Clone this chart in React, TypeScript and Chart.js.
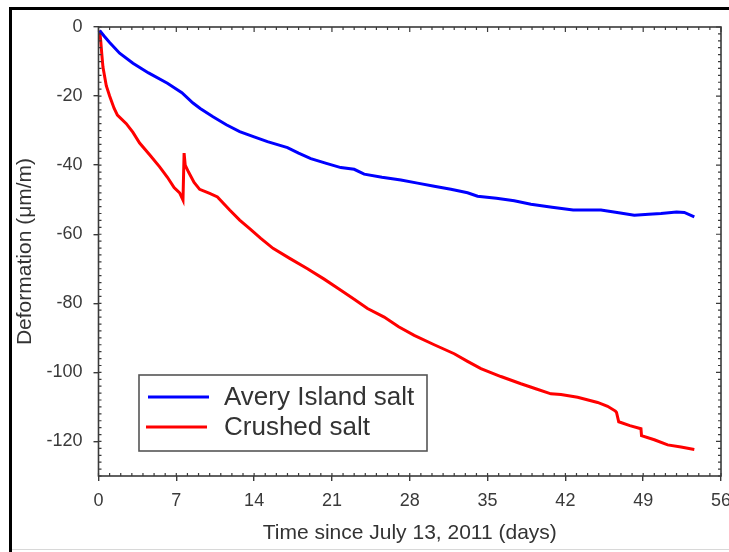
import React, { useEffect, useRef } from "react";
import { Chart, registerables } from "chart.js";

Chart.register(...registerables);

const seriesLabels = ["Avery Island salt", "Crushed salt"];
const seriesColors = ["#0000ff", "#ff0000"];

const averyDays = [0.1, 0.5, 1.0, 1.9, 3.1, 4.5, 6.2, 7.5, 8.5, 9.15, 10.3, 11.5, 12.7, 14.0, 15.2, 17.0, 18.0, 19.1, 20.5, 21.8, 23.0, 23.9, 25.5, 27.2, 28.7, 30.2, 31.7, 33.2, 34.1, 35.8, 37.4, 38.9, 40.8, 42.7, 45.2, 46.8, 48.2, 49.5, 50.6, 52.0, 52.7, 53.6];
const averyValues = [-1, -2.6, -4.5, -7.6, -10.5, -13.3, -16.3, -19, -22, -23.6, -26, -28.3, -30.3, -31.8, -33.2, -34.9, -36.5, -38.1, -39.5, -40.7, -41.2, -42.6, -43.5, -44.3, -45.2, -46.1, -47.0, -48.0, -49.0, -49.6, -50.3, -51.3, -52.2, -53.0, -53.0, -53.8, -54.5, -54.2, -54.0, -53.6, -53.7, -55.0];

const crushedDays = [0.1, 0.2, 0.3, 0.4, 0.7, 1.0, 1.4, 1.7, 2.5, 3.1, 3.7, 4.6, 5.5, 6.2, 6.8, 7.3, 7.6, 7.7, 7.8, 8.1, 8.6, 9.1, 10.0, 10.7, 11.8, 12.7, 13.6, 14.6, 15.7, 17.2, 18.8, 20.3, 21.8, 23.0, 24.2, 25.7, 27.0, 28.4, 30.2, 32.0, 33.2, 34.4, 36.2, 38.0, 39.4, 40.7, 41.6, 43.1, 44.9, 45.8, 46.5, 46.6, 46.8, 47.8, 48.8, 48.85, 50.0, 51.2, 52.4, 53.6];
const crushedValues = [-1, -4, -8, -11.6, -17, -20, -23.5, -25.5, -28, -30.5, -33.6, -37, -40.5, -43.5, -46.5, -48, -50.1, -36.5, -40, -42, -45, -47, -48.2, -49.2, -53, -55.9, -58.4, -61.2, -64.1, -67, -70, -73, -76.2, -78.8, -81.5, -84, -86.8, -89.3, -92, -94.6, -96.8, -98.9, -101.2, -103.3, -104.8, -106.2, -106.4, -107.2, -108.7, -109.8, -111.2, -111.6, -114.3, -115.4, -116.3, -118.3, -119.5, -121, -121.6, -122.3];

const xTickValues = [0, 7, 14, 21, 28, 35, 42, 49, 56];
const yTickValues = [0, -20, -40, -60, -80, -100, -120];
const xMinorStep = 1;
const yMinorStep = 2;
const xRange = [0, 56];
const yRange = [-130, 0];

const xTitle = "Time since July 13, 2011 (days)";
const yTitle = "Deformation (\u03bcm/m)";

const FONT = "'Liberation Sans', Arial, Helvetica, sans-serif";
const AXIS_COLOR = "#3a3a3a";

const decorPlugin = {
  id: "decor",
  beforeDraw(chart: any) {
    const ctx = chart.ctx;
    ctx.save();
    ctx.fillStyle = "#ffffff";
    ctx.fillRect(0, 0, chart.width, chart.height);
    ctx.fillStyle = "#000000";
    ctx.fillRect(10, 7, chart.width - 10, 3);
    ctx.fillRect(9, 7, 3, chart.height - 7);
    ctx.fillStyle = "#d8d8d8";
    ctx.fillRect(12, chart.height - 3, chart.width - 12, 1);
    ctx.restore();
  },
  afterDraw(chart: any) {
    const ctx = chart.ctx;
    const { left, right, top, bottom } = chart.chartArea;
    const xs = chart.scales.x;
    const ys = chart.scales.y;
    ctx.save();
    ctx.strokeStyle = AXIS_COLOR;
    ctx.lineWidth = 1.6;
    ctx.strokeRect(left, top, right - left, bottom - top);
    ctx.lineWidth = 1.2;
    ctx.beginPath();
    for (let v = xs.min; v <= xs.max + 1e-6; v += xMinorStep) {
      const px = xs.getPixelForValue(v);
      const major = xTickValues.includes(Math.round(v * 1000) / 1000);
      ctx.moveTo(px, bottom);
      ctx.lineTo(px, bottom - 3);
      ctx.moveTo(px, top);
      ctx.lineTo(px, top + (major ? 5 : 3));
    }
    for (let v = ys.min; v <= ys.max + 1e-6; v += yMinorStep) {
      const py = ys.getPixelForValue(v);
      const major = yTickValues.includes(Math.round(v * 1000) / 1000);
      ctx.moveTo(left, py);
      ctx.lineTo(left + 3, py);
      ctx.moveTo(right, py);
      ctx.lineTo(right - (major ? 5 : 3), py);
    }
    ctx.stroke();

    // legend box
    const bx = 139, by = 375, bw = 288, bh = 76;
    ctx.fillStyle = "#ffffff";
    ctx.fillRect(bx, by, bw, bh);
    ctx.strokeStyle = "#555555";
    ctx.lineWidth = 1.6;
    ctx.strokeRect(bx, by, bw, bh);
    const rows = [397, 427];
    const lineStarts = [148, 146];
    chart.data.datasets.forEach((ds: any, i: number) => {
      const y = rows[i];
      ctx.strokeStyle = ds.borderColor;
      ctx.lineWidth = 3;
      ctx.beginPath();
      ctx.moveTo(lineStarts[i], y);
      ctx.lineTo(lineStarts[i] + 61, y);
      ctx.stroke();
      ctx.fillStyle = "#333333";
      ctx.font = `26px ${FONT}`;
      ctx.textAlign = "left";
      ctx.textBaseline = "middle";
      ctx.fillText(ds.label, 224, y + 1);
    });
    ctx.restore();
  },
};

export default function App() {
  const ref = useRef<HTMLCanvasElement | null>(null);
  useEffect(() => {
    document.body.style.margin = "0";
    const canvas = ref.current!;
    const toPoints = (xs: number[], ys: number[]) => xs.map((x, i) => ({ x, y: ys[i] }));
    const chart = new Chart(canvas, {
      type: "line",
      data: {
        datasets: [
          {
            label: seriesLabels[0],
            data: toPoints(averyDays, averyValues),
            borderColor: seriesColors[0],
            backgroundColor: seriesColors[0],
            borderWidth: 3,
            pointRadius: 0,
            tension: 0,
          },
          {
            label: seriesLabels[1],
            data: toPoints(crushedDays, crushedValues),
            borderColor: seriesColors[1],
            backgroundColor: seriesColors[1],
            borderWidth: 3,
            pointRadius: 0,
            tension: 0,
          },
        ],
      },
      options: {
        animation: false,
        responsive: false,
        devicePixelRatio: 1,
        layout: { padding: { left: 0, top: 27, right: 8, bottom: 0 } },
        plugins: { legend: { display: false }, tooltip: { enabled: false } },
        scales: {
          x: {
            type: "linear",
            min: xRange[0],
            max: xRange[1],
            afterBuildTicks: (scale: any) => {
              scale.ticks = xTickValues.map((v) => ({ value: v }));
            },
            afterFit: (scale: any) => {
              scale.height = 76;
              scale.paddingLeft = 0;
              scale.paddingRight = 0;
            },
            ticks: {
              color: "#3a3a3a",
              font: { size: 18, family: FONT },
              padding: 9,
              maxRotation: 0,
              autoSkip: false,
            },
            grid: {
              drawOnChartArea: false,
              drawTicks: true,
              tickLength: 5,
              color: AXIS_COLOR,
              lineWidth: 1.4,
            },
            border: { display: false },
            title: {
              display: true,
              text: xTitle,
              color: "#333333",
              font: { size: 21, family: FONT },
              padding: { top: 4, bottom: 6 },
            },
          },
          y: {
            type: "linear",
            min: yRange[0],
            max: yRange[1],
            afterBuildTicks: (scale: any) => {
              scale.ticks = yTickValues.map((v) => ({ value: v }));
            },
            afterFit: (scale: any) => {
              scale.width = 98.5;
              scale.paddingTop = 0;
              scale.paddingBottom = 0;
            },
            ticks: {
              color: "#3a3a3a",
              font: { size: 18, family: FONT },
              padding: 11,
              autoSkip: false,
            },
            grid: {
              drawOnChartArea: false,
              drawTicks: true,
              tickLength: 5,
              color: AXIS_COLOR,
              lineWidth: 1.4,
            },
            border: { display: false },
            title: {
              display: true,
              text: yTitle,
              color: "#333333",
              font: { size: 21, family: FONT },
              padding: { top: 13, bottom: 0 },
            },
          },
        },
      },
      plugins: [decorPlugin],
    } as any);
    return () => chart.destroy();
  }, []);
  return (
    <div style={{ width: 729, height: 552 }}>
      <canvas ref={ref} width={729} height={552} style={{ display: "block" }} />
    </div>
  );
}
